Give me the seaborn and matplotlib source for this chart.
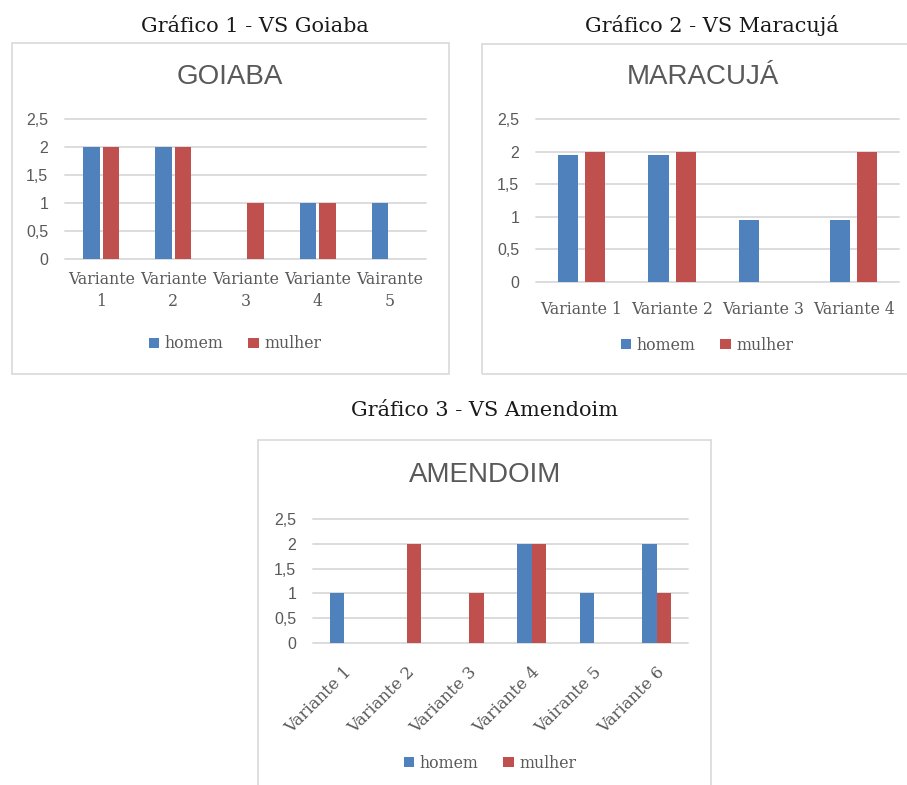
import matplotlib
matplotlib.use("Agg")
import matplotlib.pyplot as plt
from matplotlib.patches import Rectangle, Patch
from matplotlib.transforms import ScaledTranslation
import seaborn as sns
import pandas as pd

sns.set_theme(style="white")
plt.rcParams["font.family"] = ["DejaVu Sans"]

# ---- data ----
series = ["homem", "mulher"]
colors = ["#4F81BD", "#C0504D"]

goiaba_cats = ["Variante\n1", "Variante\n2", "Variante\n3", "Variante\n4", "Vairante\n5"]
goiaba_homem = [2, 2, 0, 1, 1]
goiaba_mulher = [2, 2, 1, 1, 0]

maracuja_cats = ["Variante 1", "Variante 2", "Variante 3", "Variante 4"]
maracuja_homem = [1.95, 1.95, 0.95, 0.95]
maracuja_mulher = [2, 2, 0, 2]

amendoim_cats = ["Variante 1", "Variante 2", "Variante 3", "Variante 4", "Vairante 5", "Variante 6"]
amendoim_homem = [1, 0, 0, 2, 1, 2]
amendoim_mulher = [0, 2, 1, 2, 0, 1]

y_ticks = [0, 0.5, 1, 1.5, 2, 2.5]
y_tick_labels = ["0", "0,5", "1", "1,5", "2", "2,5"]

# ---- layout helpers (pixel coordinates on a 907x785 canvas) ----
W, H = 907, 785
fig = plt.figure(figsize=(W / 100, H / 100), dpi=100)
fig.patch.set_facecolor("white")

GRAY = "#595959"
GRID = "#d9d9d9"
SERIF = ["DejaVu Serif"]
SANS = ["Liberation Sans", "DejaVu Sans"]


def fx(x):
    return x / W


def fy(y):
    return 1 - y / H


def add_axes(left, top, right, bottom):
    return fig.add_axes([fx(left), fy(bottom), (right - left) / W, (bottom - top) / H])


def frame(left, top, right, bottom):
    fig.add_artist(Rectangle((fx(left), fy(bottom)), (right - left) / W, (bottom - top) / H,
                             transform=fig.transFigure, fill=False,
                             edgecolor=GRID, linewidth=1.2))


def panel(ax, cats, homem, mulher, title, title_xy, width, gap, legend_xy,
          rotate=False, label_pad=8, label_size=11.3):
    n = len(cats)
    df = pd.DataFrame({
        "variante": cats * 2,
        "sexo": ["homem"] * n + ["mulher"] * n,
        "valor": homem + mulher,
    })
    sns.barplot(data=df, x="variante", y="valor", hue="sexo", order=cats,
                hue_order=series, palette=colors, width=width, gap=gap,
                saturation=1, linewidth=0, legend=False, ax=ax, zorder=3)
    ax.set_ylim(0, 2.5)
    ax.set_yticks(y_ticks, y_tick_labels)
    ax.set_xlabel("")
    ax.set_ylabel("")
    ax.set_facecolor("none")
    for s in ax.spines.values():
        s.set_visible(False)
    ax.set_axisbelow(True)
    ax.yaxis.grid(True, color=GRID, linewidth=1.3)
    for gl in ax.get_ygridlines():
        gl.set_clip_on(False)
    ax.tick_params(axis="y", length=0, pad=12, labelcolor=GRAY, labelsize=11.5)
    ax.tick_params(axis="x", length=0, pad=label_pad, labelcolor=GRAY, labelsize=label_size)
    for lbl in ax.get_yticklabels():
        lbl.set_family(SANS)
    for lbl in ax.get_xticklabels():
        lbl.set_family(SERIF)
        lbl.set_linespacing(1.35)
        if rotate:
            lbl.set_rotation(45)
            lbl.set_ha("right")
            lbl.set_va("center")
            lbl.set_rotation_mode("anchor")
            lbl.set_transform(lbl.get_transform() +
                              ScaledTranslation(5 / 100, 0, fig.dpi_scale_trans))
    fig.text(fx(title_xy[0]), fy(title_xy[1]), title, ha="center", va="center",
             fontsize=20, color=GRAY, family=SANS)
    handles = [Patch(facecolor=c, edgecolor="none") for c in colors]
    ax.legend(handles, series, loc="center", bbox_to_anchor=(fx(legend_xy[0]), fy(legend_xy[1])),
              bbox_transform=fig.transFigure, ncol=2, frameon=False,
              handlelength=0.65, handleheight=0.65, handletextpad=0.35,
              columnspacing=1.6, labelcolor=GRAY,
              prop={"family": SERIF, "size": 11.3})


# ---- headings ----
fig.text(fx(255), fy(26), "Gráfico 1 - VS Goiaba", ha="center", va="center",
         fontsize=15, family=SERIF, color="#1a1a1a")
fig.text(fx(712), fy(26), "Gráfico 2 - VS Maracujá", ha="center", va="center",
         fontsize=15, family=SERIF, color="#1a1a1a")
fig.text(fx(485), fy(410), "Gráfico 3 - VS Amendoim", ha="center", va="center",
         fontsize=15, family=SERIF, color="#1a1a1a")

# ---- panel frames ----
frame(12, 43, 449, 374)
frame(482, 44, 912, 374)
frame(258, 440, 711, 792)

# ---- charts ----
ax1 = add_axes(65, 119, 426, 259)
panel(ax1, goiaba_cats, goiaba_homem, goiaba_mulher, "GOIABA", (230, 77),
      width=0.54, gap=0.15, legend_xy=(235, 344), label_pad=9)

ax2 = add_axes(536, 119, 899, 282)
panel(ax2, maracuja_cats, maracuja_homem, maracuja_mulher, "MARACUJÁ", (703, 77),
      width=0.6, gap=0.26, legend_xy=(707, 345), label_pad=14)

ax3 = add_axes(313, 519, 688, 643)
panel(ax3, amendoim_cats, amendoim_homem, amendoim_mulher, "AMENDOIM", (485, 475),
      width=0.47, gap=0.0, legend_xy=(490, 763), rotate=True, label_pad=19,
      label_size=12)

fig.savefig("out.png", dpi=100, facecolor="white")
